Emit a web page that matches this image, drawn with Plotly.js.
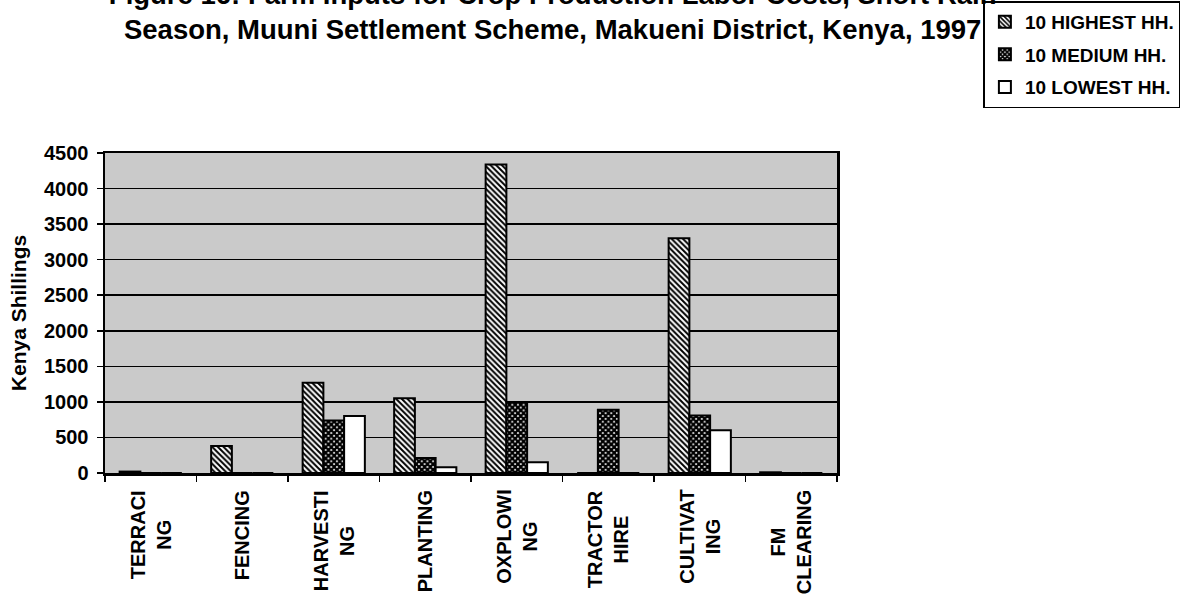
<!DOCTYPE html>
<html>
<head>
<meta charset="utf-8">
<script src="https://cdn.plot.ly/plotly-3.0.1.min.js"></script>
<style>
  html, body { margin: 0; padding: 0; background: #ffffff; }
  #chart { width: 1186px; height: 603px; }
</style>
</head>
<body>
<div id="chart"></div>
<script>
// ---- Data ----
const categories = ["TERRACING", "FENCING", "HARVESTING", "PLANTING", "OXPLOWING", "TRACTOR HIRE", "CULTIVATING", "FM CLEARING"];
const tickLabels = ["TERRACI<br>NG", "FENCING", "HARVESTI<br>NG", "PLANTING", "OXPLOWI<br>NG", "TRACTOR<br>HIRE", "CULTIVAT<br>ING", "FM<br>CLEARING"];
const seriesNames = ["10 HIGHEST HH.", "10 MEDIUM HH.", "10 LOWEST HH."];
const highest = [20, 380, 1270, 1050, 4340, 0, 3300, 10];
const medium  = [0, 0, 740, 210, 1000, 890, 810, 0];
const lowest  = [0, 0, 800, 80, 150, 0, 600, 0];
const yTicks = [0, 500, 1000, 1500, 2000, 2500, 3000, 3500, 4000, 4500];

const FONT = "Liberation Sans, Arial, Helvetica, sans-serif";

const traces = [
  {
    type: "bar", name: seriesNames[0], legendgroup: "g1", x: categories, y: highest,
    marker: {
      color: "#ffffff",
      line: { color: "#000000", width: 2 },
      pattern: { shape: "\\", fgcolor: "#000000", bgcolor: "#ffffff", size: 4, solidity: 0.5 }
    }
  },
  {
    type: "bar", name: seriesNames[1], legendgroup: "g2", x: categories, y: medium,
    marker: {
      color: "#ffffff",
      line: { color: "#000000", width: 2 },
      pattern: { shape: "x", fgcolor: "#000000", bgcolor: "#ffffff", size: 4, solidity: 0.8 }
    }
  },
  {
    type: "bar", name: seriesNames[2], legendgroup: "g3", x: categories, y: lowest,
    marker: { color: "#ffffff", line: { color: "#000000", width: 2 } }
  }
];

const annotations = categories.map((c, i) => ({
  xref: "x", yref: "paper", x: c, y: 0, yshift: -15,
  text: tickLabels[i], textangle: -90, showarrow: false,
  xanchor: "center", yanchor: "top", align: "center",
  font: { family: FONT, size: 20, color: "#000000", weight: "bold" }
}));

const layout = {
  width: 1186, height: 603,
  paper_bgcolor: "#ffffff",
  plot_bgcolor: "#cacaca",
  margin: { l: 105, r: 349, t: 153, b: 130, pad: 0, autoexpand: false },
  barmode: "group",
  bargap: 0.32,
  bargroupgap: 0,
  title: {
    text: "Figure 16: Farm Inputs for Crop Production Labor Costs, Short Rain<br>Season, Muuni Settlement Scheme, Makueni District, Kenya, 1997",
    font: { family: FONT, size: 27.5, color: "#000000", weight: "bold" },
    xref: "container", yref: "container",
    x: 0.466, xanchor: "center",
    y: 0.994, yanchor: "middle",
    automargin: false
  },
  xaxis: {
    type: "category",
    showticklabels: false,
    ticks: "outside", tickson: "boundaries", ticklen: 6, tickwidth: 1.5, tickcolor: "#000000",
    showline: true, linecolor: "#000000", linewidth: 2.5, mirror: true,
    showgrid: false, zeroline: false, fixedrange: true
  },
  yaxis: {
    range: [0, 4500], tickvals: yTicks, ticktext: yTicks.map(String),
    ticks: "outside", ticklen: 6, tickwidth: 1.5, tickcolor: "#000000",
    ticklabelstandoff: 4,
    tickfont: { family: FONT, size: 20, color: "#000000", weight: "bold" },
    showline: true, linecolor: "#000000", linewidth: 2.5, mirror: true,
    showgrid: true, gridcolor: "#000000", gridwidth: 1.5,
    zeroline: false, fixedrange: true,
    title: {
      text: "Kenya Shillings", standoff: 12,
      font: { family: FONT, size: 21, color: "#000000", weight: "bold" }
    }
  },
  legend: {
    xref: "paper", yref: "paper",
    x: 1.2, y: 1.474, xanchor: "left", yanchor: "top",
    bgcolor: "#ffffff", bordercolor: "#000000", borderwidth: 1.5,
    font: { family: FONT, size: 19, color: "#000000", weight: "bold" },
    itemwidth: 30, tracegroupgap: 5,
    traceorder: "grouped"
  },
  annotations: annotations,
  showlegend: true
};

Plotly.newPlot("chart", traces, layout, { displayModeBar: false, staticPlot: true });
</script>
</body>
</html>
